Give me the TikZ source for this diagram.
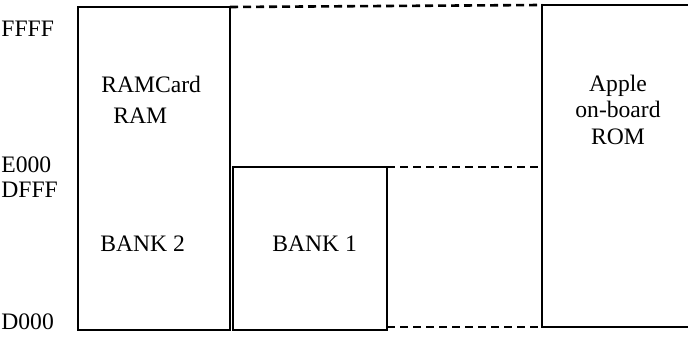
\documentclass[tikz,border=0pt]{standalone}
\usepackage{fontspec}
\setmainfont{Liberation Serif}
\usepackage{tikz}
\usetikzlibrary{positioning}
\tikzset{
	membox/.style={draw, line width=1.3pt, inner sep=0pt, outer sep=0pt, anchor=south west},
	memlink/.style={line width=1.3pt, dash pattern=on 4pt off 2.5pt},
	addr/.style={anchor=base west, inner sep=0pt, font=\fontsize{11.8}{13.5}\selectfont},
	txt/.style={anchor=base, inner sep=0pt, font=\fontsize{11.8}{13.5}\selectfont},
}

\begin{document}
\begin{tikzpicture}[x=0.5pt, y=0.5pt]
	\useasboundingbox (0,0) rectangle (688,336);
	\begin{scope}
		% memory blocks
		\node[membox, minimum width=76pt, minimum height=161.5pt] (ramcard) at (78,6) {};
		\node[membox, minimum width=77pt, minimum height=81.5pt] (bankone) at (233,6) {};
		\node[membox, minimum width=80pt, minimum height=161pt] (rom) at (542,9) {};

		\draw[memlink] (ramcard.north east) -- (rom.north west);
		\draw[memlink] (bankone.north east) -- (bankone.north east -| rom.west);
		\draw[memlink] (rom.south west -| bankone.east) -- (rom.south west);

		% addresses
		\node[addr] (ffff) at (1,299) {FFFF};
		\node[addr] (ezero) at (1,163) {E000};
		\node[addr] (dfff) at (1,138) {DFFF};
		\node[addr] (dzero) at (1,6) {D000};

		\node[addr] (cardname) at (101,243) {RAMCard};
		\node[addr] (cardram) at (113,212) {RAM};
		\node[addr] (banktwo) at (100,84) {BANK 2};
		\node[addr] (banklabel) at (272,84) {BANK 1};

		\node[txt] (apple) at (618,244) {Apple};
		\node[txt] (onboard) at (618,218) {on-board};
		\node[txt] (romlabel) at (618,191) {ROM};
	\end{scope}
\end{tikzpicture}
\end{document}
